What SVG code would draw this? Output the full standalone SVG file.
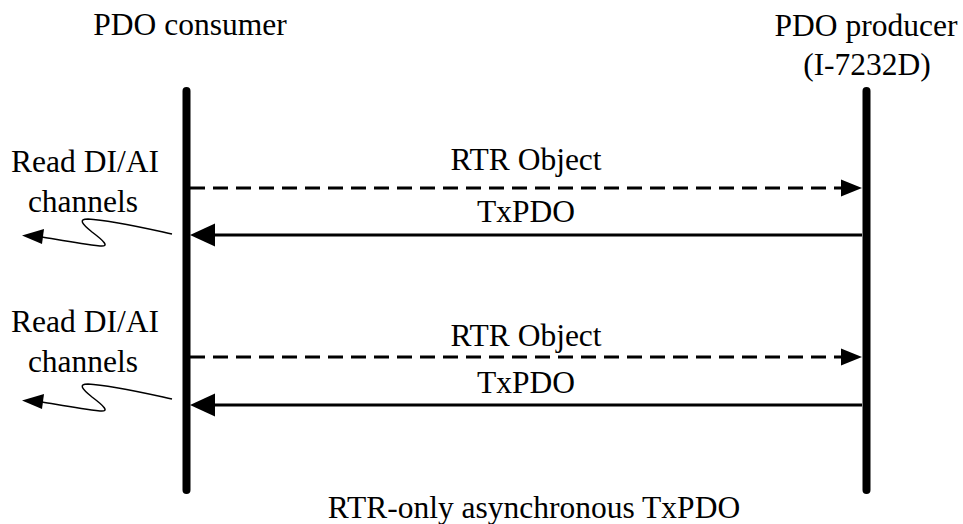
<svg xmlns="http://www.w3.org/2000/svg" width="963" height="524" viewBox="0 0 963 524">
<style>
text{font-family:"Liberation Serif","Times New Roman",serif;font-size:31.5px;fill:#000;text-anchor:middle}
.life{stroke:#000;stroke-width:8;stroke-linecap:round;fill:none}
.dash{stroke:#000;stroke-width:3;stroke-dasharray:15 8;fill:none}
.solid{stroke:#000;stroke-width:3;fill:none}
.wave{stroke:#000;stroke-width:1.5;fill:none}
.head{fill:#000;stroke:none}
</style>
<rect width="963" height="524" fill="#fff"/>
<g id="consumer">
<text x="190" y="35">PDO consumer</text>
<line class="life" x1="186.5" y1="91" x2="186.5" y2="490"/>
</g>
<g id="producer">
<text x="866" y="36">PDO producer</text>
<text x="867" y="75">(I-7232D)</text>
<line class="life" x1="866.5" y1="91" x2="866.5" y2="490"/>
</g>
<g id="read1">
<text x="85" y="172">Read DI/AI</text>
<text x="83" y="212">channels</text>
</g>
<g id="read2">
<text x="85" y="332">Read DI/AI</text>
<text x="83" y="372">channels</text>
</g>
<g id="connectors">
<g id="rtr1">
<line class="dash" x1="190" y1="188" x2="842" y2="188"/>
<polygon class="head" points="862,188 841,179.5 841,196.5"/>
<text x="526" y="170">RTR Object</text>
</g>
<g id="tx1">
<line class="solid" x1="212" y1="235" x2="862" y2="235"/>
<polygon class="head" points="190,235 215,223.5 215,246.5"/>
<text x="526" y="222">TxPDO</text>
</g>
<g id="rtr2">
<line class="dash" x1="190" y1="357" x2="842" y2="357"/>
<polygon class="head" points="862,357 841,348.5 841,365.5"/>
<text x="526" y="346">RTR Object</text>
</g>
<g id="tx2">
<line class="solid" x1="212" y1="405" x2="862" y2="405"/>
<polygon class="head" points="190,405 215,393.5 215,416.5"/>
<text x="526" y="393">TxPDO</text>
</g>
<g id="wave1">
<path class="wave" d="M172,234 C140,227 110,220 88,219 C78,219 82,224 92,232 C104,241 110,247 100,246 C80,244 60,240 42,237"/>
<polygon class="head" points="22,235.5 44,229 42,244"/>
</g>
<g id="wave2" transform="translate(0,165)">
<path class="wave" d="M172,234 C140,227 110,220 88,219 C78,219 82,224 92,232 C104,241 110,247 100,246 C80,244 60,240 42,237"/>
<polygon class="head" points="22,235.5 44,229 42,244"/>
</g>
</g>
<text x="534" y="518">RTR-only asynchronous TxPDO</text>
</svg>
